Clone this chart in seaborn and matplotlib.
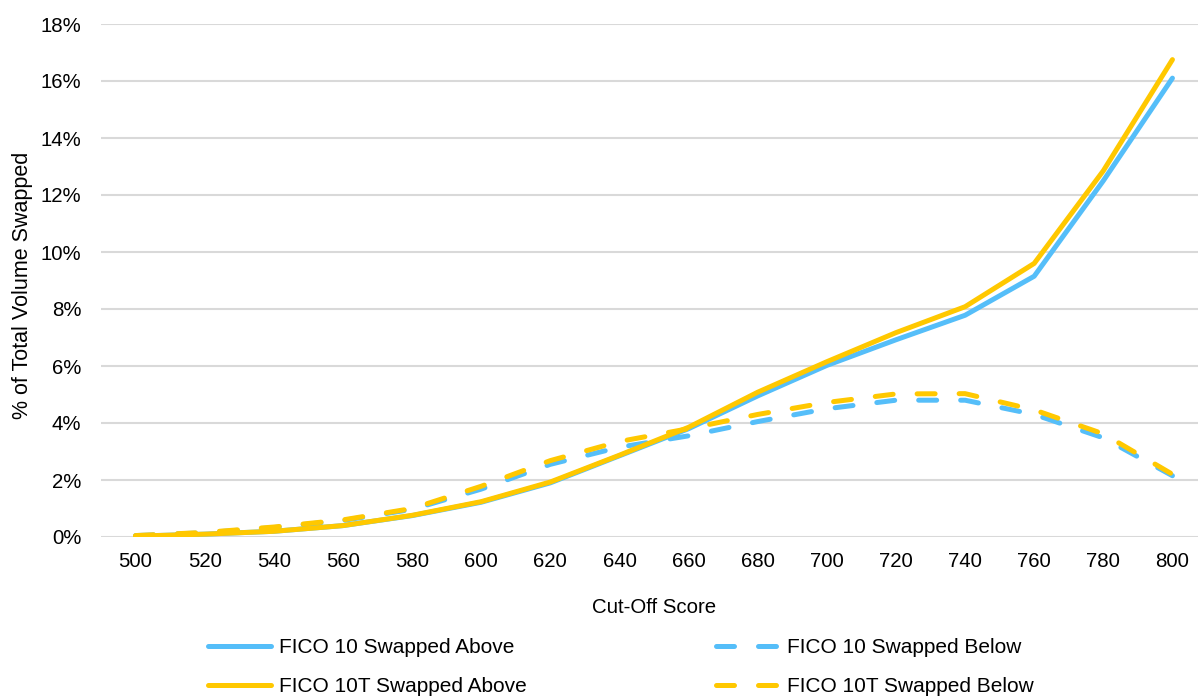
import matplotlib
matplotlib.use("Agg")
import matplotlib.pyplot as plt
import seaborn as sns
import pandas as pd
from matplotlib.ticker import FuncFormatter, MultipleLocator

# ---- data ----
scores = [500, 520, 540, 560, 580, 600, 620, 640, 660, 680, 700, 720, 740, 760, 780, 800]
fico10_above = [0.03, 0.10, 0.20, 0.40, 0.75, 1.22, 1.90, 2.85, 3.80, 4.95, 6.02, 6.92, 7.78, 9.15, 12.50, 16.10]
fico10_below = [0.05, 0.15, 0.33, 0.58, 0.97, 1.68, 2.55, 3.15, 3.55, 4.05, 4.50, 4.80, 4.80, 4.30, 3.48, 2.15]
fico10t_above = [0.03, 0.10, 0.20, 0.40, 0.76, 1.24, 1.93, 2.87, 3.85, 5.08, 6.15, 7.17, 8.08, 9.60, 12.85, 16.75]
fico10t_below = [0.05, 0.16, 0.35, 0.60, 1.00, 1.78, 2.68, 3.35, 3.80, 4.30, 4.72, 5.02, 5.03, 4.46, 3.62, 2.20]

series_names = ["FICO 10 Swapped Above", "FICO 10 Swapped Below",
                "FICO 10T Swapped Above", "FICO 10T Swapped Below"]
series_values = [fico10_above, fico10_below, fico10t_above, fico10t_below]

BLUE = "#55BEF9"
YELLOW = "#FFC800"
colors = [BLUE, BLUE, YELLOW, YELLOW]
dashed = [False, True, False, True]

sns.set_theme(style="white")
plt.rcParams["font.family"] = ["Liberation Sans", "DejaVu Sans"]
plt.rcParams["text.color"] = "#000000"

fig = plt.figure(figsize=(11.98, 6.96), dpi=100)
ax = fig.add_axes([101 / 1198, 1 - 537 / 696, 1106 / 1198, (537 - 24) / 696])

LW = 3.6
handles = {}
for name, vals, col, dsh in zip(series_names, series_values, colors, dashed):
    df = pd.DataFrame({"score": scores, "value": vals})
    kw = dict(color=col, linewidth=LW, solid_capstyle="round", dash_capstyle="round",
              solid_joinstyle="round")
    if dsh:
        kw["linestyle"] = (0, (3.6, 4.8))
    sns.lineplot(data=df, x="score", y="value", ax=ax, label=name, **kw)
    handles[name] = ax.lines[-1]

ax.set_xlim(490, 810)
ax.set_ylim(0, 18)
ax.set_xticks(scores)
ax.yaxis.set_major_locator(MultipleLocator(2))
ax.yaxis.set_major_formatter(FuncFormatter(lambda v, p: f"{v:.0f}%"))

ax.grid(axis="y", color="#D9D9D9", linewidth=1.5)
ax.grid(axis="x", visible=False)
ax.set_axisbelow(True)
for s in ax.spines.values():
    s.set_visible(False)

FS = 14.7
ax.tick_params(axis="both", length=0, labelsize=FS, colors="#000000")
ax.tick_params(axis="x", pad=11)
ax.tick_params(axis="y", pad=14.3)
ax.set_xlabel("Cut-Off Score", fontsize=FS, color="#000000", labelpad=19)
ax.set_ylabel("% of Total Volume Swapped", fontsize=15.5, color="#000000")
ax.yaxis.set_label_coords(-68 / 1106, 0.49)

order = ["FICO 10 Swapped Above", "FICO 10T Swapped Above",
         "FICO 10 Swapped Below", "FICO 10T Swapped Below"]
leg = ax.legend([handles[n] for n in order], order, ncol=2, frameon=False,
                loc="center", bbox_to_anchor=(621 / 1198, 1 - 667 / 696),
                bbox_transform=fig.transFigure, fontsize=15, handlelength=3.0,
                handletextpad=0.4, columnspacing=9.1, labelspacing=0.95)
for t in leg.get_texts():
    t.set_color("#000000")

fig.savefig("out.png", dpi=100)
